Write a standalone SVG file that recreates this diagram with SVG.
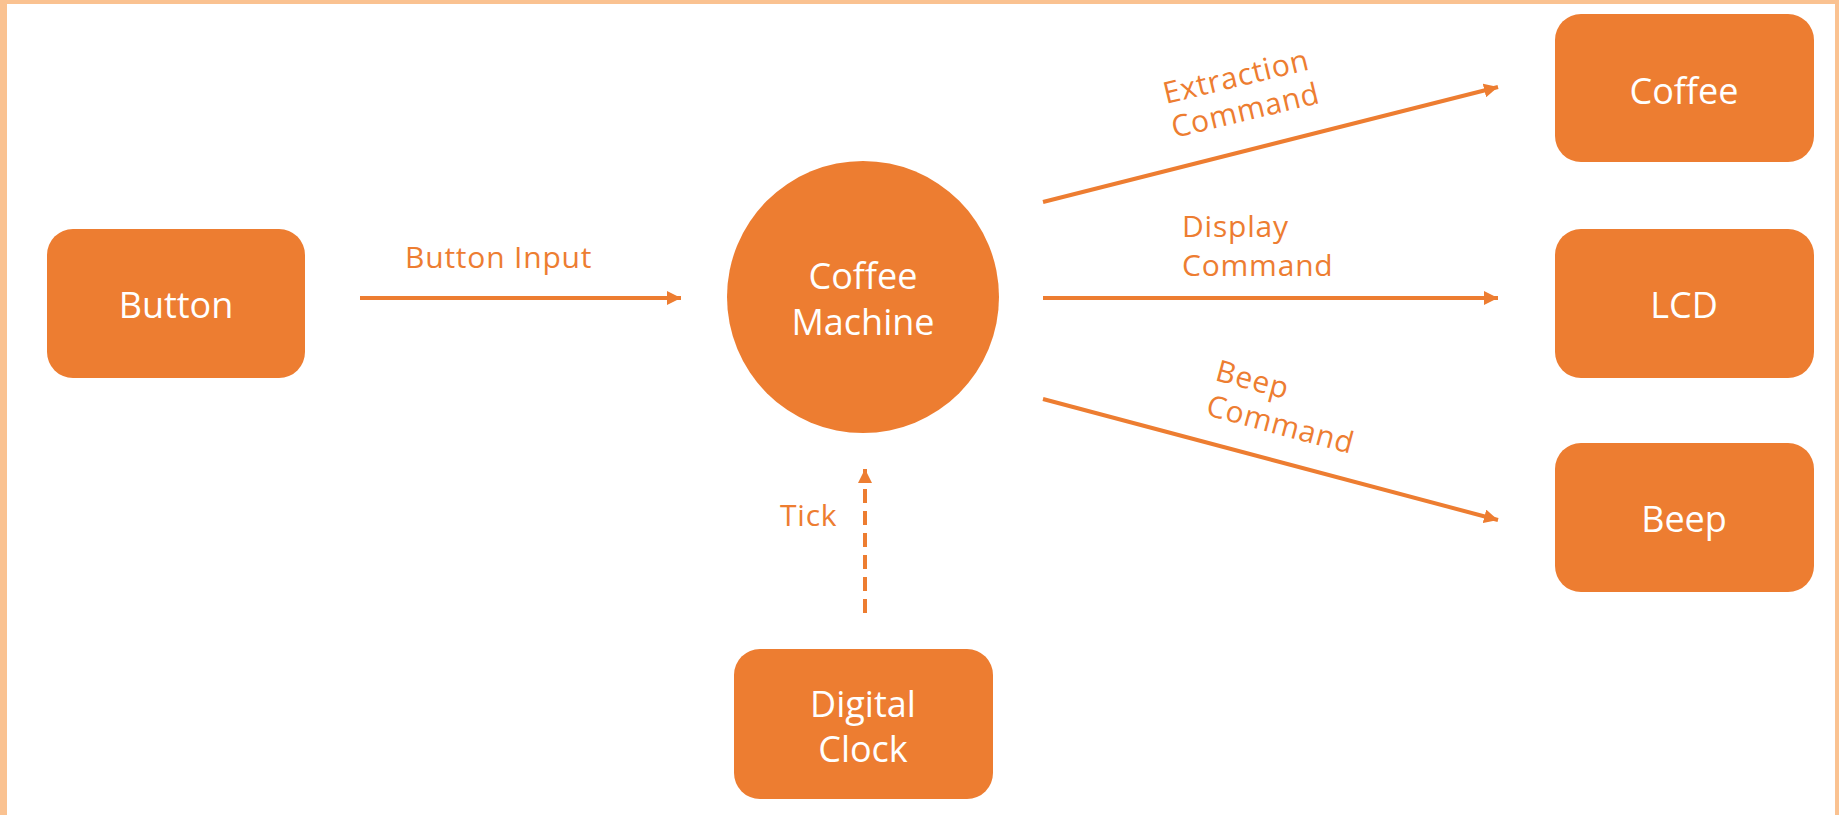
<svg xmlns="http://www.w3.org/2000/svg" width="1839" height="815" viewBox="0 0 1839 815">
<style>
.box{fill:#ED7D31}
.nt{font-family:"Open Sans","Noto Sans","Liberation Sans",sans-serif;font-size:36px;fill:#FFFFFF;text-anchor:middle}
.lb{font-family:"Open Sans","Noto Sans","Liberation Sans",sans-serif;font-size:30px;fill:#ED7D31;letter-spacing:0.8px}
.cn{stroke:#ED7D31;stroke-width:4;fill:none;marker-end:url(#ah)}
</style>
<defs>
<marker id="ah" markerUnits="userSpaceOnUse" markerWidth="16" markerHeight="14" refX="14" refY="7" orient="auto">
<path d="M0,0 L14,7 L0,14 Z" fill="#ED7D31"/>
</marker>
</defs>
<rect x="0" y="0" width="1839" height="815" fill="#FFFFFF"/>
<rect x="0" y="0" width="7" height="815" fill="#FAC291"/>
<rect x="0" y="0" width="1839" height="4" fill="#FAC291"/>
<rect x="1835" y="0" width="4" height="815" fill="#FAC291"/>

<g id="connectors">
<line class="cn" x1="360" y1="298" x2="681" y2="298"/>
<line class="cn" x1="1043" y1="202" x2="1498" y2="87"/>
<line class="cn" x1="1043" y1="298" x2="1498" y2="298"/>
<line class="cn" x1="1043" y1="399" x2="1498" y2="520"/>
<line class="cn" x1="865" y1="613" x2="865" y2="469" stroke-dasharray="14,8"/>
<text class="lb" x="405" y="268">Button Input</text>
<text class="lb" transform="translate(1166,104) rotate(-13.5)"><tspan x="0" y="0">Extraction</tspan><tspan x="0" y="35">Command</tspan></text>
<text class="lb" x="1182" y="237">Display</text>
<text class="lb" x="1182" y="276">Command</text>
<text class="lb" transform="translate(1214,380) rotate(15)"><tspan x="0" y="0">Beep</tspan><tspan x="0" y="36">Command</tspan></text>
<text class="lb" x="780" y="526">Tick</text>
</g>

<g id="button">
<rect class="box" x="47" y="229" width="258" height="149" rx="26"/>
<text class="nt" x="176" y="318">Button</text>
</g>
<g id="coffee-machine">
<circle class="box" cx="863" cy="297" r="136"/>
<text class="nt" x="863" y="289">Coffee</text>
<text class="nt" x="863" y="335">Machine</text>
</g>
<g id="coffee">
<rect class="box" x="1555" y="14" width="259" height="148" rx="26"/>
<text class="nt" x="1684" y="104">Coffee</text>
</g>
<g id="lcd">
<rect class="box" x="1555" y="229" width="259" height="149" rx="26"/>
<text class="nt" x="1684" y="318">LCD</text>
</g>
<g id="beep">
<rect class="box" x="1555" y="443" width="259" height="149" rx="26"/>
<text class="nt" x="1684" y="532">Beep</text>
</g>
<g id="digital-clock">
<rect class="box" x="734" y="649" width="259" height="150" rx="26"/>
<text class="nt" x="863" y="717">Digital</text>
<text class="nt" x="863" y="762">Clock</text>
</g>
</svg>
